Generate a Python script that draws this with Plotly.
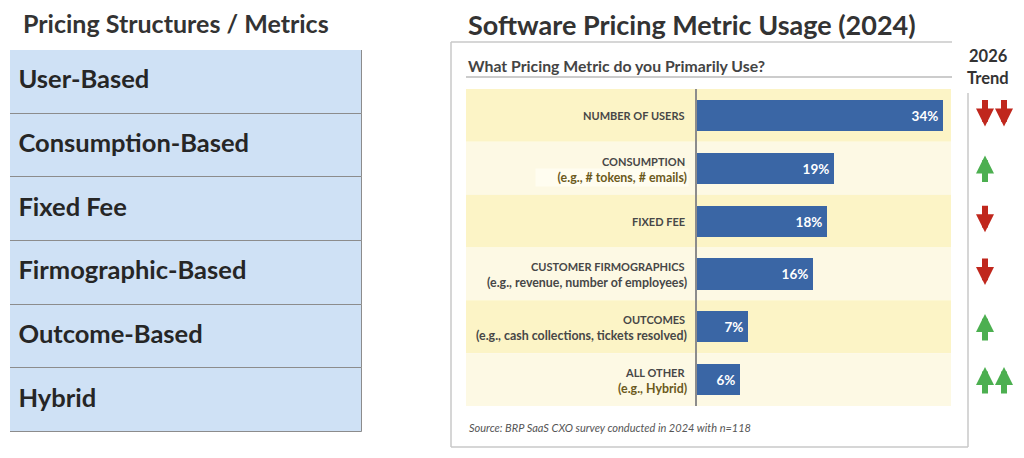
import plotly.graph_objects as go

# left table
structures = ["User-Based", "Consumption-Based", "Fixed Fee",
              "Firmographic-Based", "Outcome-Based", "Hybrid"]

# right chart
metrics = ["NUMBER OF USERS", "CONSUMPTION", "FIXED FEE",
           "CUSTOMER FIRMOGRAPHICS", "OUTCOMES", "ALL OTHER"]
metric_notes = ["", "(e.g., # tokens, # emails)", "",
                "(e.g., revenue, number of employees)",
                "(e.g., cash collections, tickets resolved)", "(e.g., Hybrid)"]
usage_pct = [34, 19, 18, 16, 7, 6]
# 2026 trend: sign = direction, size = number of arrows
trend = [-2, 1, -1, -1, 1, 2]

# the page puts the plot 8px in from the top-left corner
OFF = 8
W, H = 1024 - OFF, 458 - OFF


def px(x):
    return (x - OFF) / W


def py(y):
    return 1 - (y - OFF) / H


dark = "#333333"
label_col = "#474747"
olive = "#6b5a1c"
band_dark = "#fcf4c6"
band_light = "#fdf9e4"
bar_col = "#3a66a5"
red = "#c0271d"
green = "#4caf50"

fig = go.Figure()

idx = list(range(len(metrics)))
rows = list(range(len(structures)))

# left table as stacked full-width cells
fig.add_trace(go.Bar(
    x=[1] * len(structures), y=rows, orientation="h", width=1,
    marker=dict(color="#cfe1f5", line=dict(color="#8c8c8c", width=1)),
    cliponaxis=False, hoverinfo="skip", xaxis="x3", yaxis="y3",
))
fig.add_trace(go.Scatter(
    x=[0.024] * len(structures), y=rows, mode="text",
    text=["<b>" + s + "</b>" for s in structures], textposition="middle right",
    textfont=dict(family="Lato", size=25.5, color="#262626"),
    hoverinfo="skip", xaxis="x3", yaxis="y3",
))

fig.add_trace(go.Bar(
    x=usage_pct, y=idx, orientation="h", width=0.59,
    marker=dict(color=bar_col, line=dict(width=0)),
    text=[f"{v}%\u2009" for v in usage_pct], textposition="inside",
    insidetextanchor="end", constraintext="none", textangle=0,
    textfont=dict(family="Lato", size=13.5, color="white", weight="bold"),
    hoverinfo="skip", xaxis="x", yaxis="y",
))

# invisible anchor trace for the trend column
fig.add_trace(go.Scatter(
    x=[0.5] * len(trend), y=idx, mode="markers",
    marker=dict(opacity=0), hoverinfo="skip", xaxis="x2", yaxis="y",
))

shapes = []
for i in idx:
    shapes.append(dict(type="rect", xref="paper", yref="y",
                       x0=px(466), x1=px(951), y0=i - 0.5, y1=i + 0.5,
                       fillcolor=band_dark if i % 2 == 0 else band_light,
                       line=dict(width=0), layer="below"))

frame = dict(color="#c8c8c8", width=1.5)
shapes += [
    dict(type="line", xref="paper", yref="paper", x0=px(451), x1=px(952), y0=py(42), y1=py(42), line=frame),
    dict(type="line", xref="paper", yref="paper", x0=px(451), x1=px(451), y0=py(42), y1=py(447), line=frame),
    dict(type="line", xref="paper", yref="paper", x0=px(451), x1=px(968), y0=py(447), y1=py(447), line=frame),
    dict(type="line", xref="paper", yref="paper", x0=px(968), x1=px(968), y0=py(93), y1=py(447), line=frame),
    dict(type="line", xref="paper", yref="paper", x0=px(466), x1=px(952), y0=py(77), y1=py(77),
         line=dict(color="#9a9a9a", width=1.2)),
]


def note_text(text, x, y, size, color=dark, anchor="center"):
    return dict(text=text, x=px(x), y=py(y), xref="paper", yref="paper",
                xanchor=anchor, yanchor="middle", showarrow=False,
                font=dict(family="Lato", size=size, color=color))


annotations = [
    note_text("<b>Pricing Structures / Metrics</b>", 176, 22.5, 25),
    note_text("<b>Software Pricing Metric Usage (2024)</b>", 692, 24, 27),
    note_text("<b>What Pricing Metric do you Primarily Use?</b>", 466, 66, 15.8, "#444444", "left"),
    note_text("<i>Source: BRP SaaS CXO survey conducted in 2024 with n=118</i>", 467, 427, 11, "#555555", "left"),
    note_text("<b>2026</b>", 988, 56, 16.5),
    note_text("<b>Trend</b>", 988, 78, 16.5),
]

for i in idx:
    has_note = metric_notes[i] != ""
    annotations.append(dict(text="<b>" + metrics[i] + "</b>", x=px(687), y=i, xref="paper", yref="y",
                            xanchor="right", yanchor="middle", yshift=7 if has_note else 0,
                            showarrow=False, font=dict(family="Lato", size=11, color=label_col)))
    if has_note:
        col = olive if metric_notes[i] in ("(e.g., # tokens, # emails)", "(e.g., Hybrid)") else label_col
        note = dict(text="<b>" + metric_notes[i] + "</b>", x=px(689), y=i, xref="paper", yref="y",
                    xanchor="right", yanchor="middle", yshift=-9, showarrow=False,
                    font=dict(family="Lato", size=12.4, color=col))
        if i == 1:
            note.update(bgcolor="#fffdf0", width=150, align="right", borderpad=1)
        annotations.append(note)

# trend arrows
for i, t in enumerate(trend):
    col = red if t < 0 else green
    for k in range(abs(t)):
        xpos = 0.5 + k
        if t < 0:
            head, tail = i + 0.21, i - 0.32
        else:
            head, tail = i - 0.24, i + 0.29
        annotations.append(dict(x=xpos, y=head, ax=xpos, ay=tail, xref="x2", yref="y",
                                axref="x2", ayref="y", text="", showarrow=True,
                                arrowhead=2, arrowwidth=6, arrowsize=0.6, arrowcolor=col))

fig.update_layout(
    width=W, height=H, margin=dict(l=0, r=0, t=0, b=0),
    paper_bgcolor="white", plot_bgcolor="rgba(0,0,0,0)",
    showlegend=False, bargap=0,
    font=dict(family="Lato"),
    xaxis=dict(domain=[px(697), px(951)], range=[0, 35.1], visible=False, fixedrange=True),
    yaxis=dict(domain=[py(406), py(89)], range=[5.5, -0.5], showticklabels=False,
               showgrid=False, zeroline=False, showline=True, linecolor="#8c8c8c",
               linewidth=1.5, ticks="", anchor="x"),
    xaxis2=dict(domain=[px(975.5), px(1013.5)], range=[0, 2], visible=False, anchor="y"),
    xaxis3=dict(domain=[px(10), px(362)], range=[0, 1], visible=False, anchor="y3"),
    yaxis3=dict(domain=[py(432), py(50)], range=[5.5, -0.5], visible=False, anchor="x3"),
    shapes=shapes,
    annotations=annotations,
)

fig.write_html("out.html")
